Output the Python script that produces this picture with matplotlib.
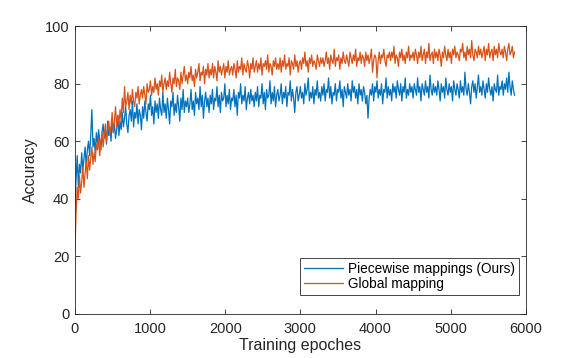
import numpy as np
import matplotlib
matplotlib.use('Agg')
import matplotlib.pyplot as plt

# accuracy, one value every 15 epochs (20 values per row = 300 epochs)
step = 15
piecewise = [38, 47, 55, 44, 52, 49, 56, 50, 54, 58, 51, 57, 60, 55, 62, 71, 58, 61, 56, 63,
             59, 64, 60, 57, 63, 66, 61, 64, 59, 67, 62, 65, 60, 68, 63, 66, 61, 64, 69, 62,
             67, 64, 70, 65, 68, 72, 66, 63, 69, 71, 67, 74, 65, 70, 68, 73, 66, 71, 69, 64,
             72, 68, 74, 70, 67, 73, 71, 76, 69, 72, 66, 74, 70, 73, 68, 75, 71, 69, 77, 70,
             73, 68, 75, 71, 66, 74, 72, 77, 69, 73, 70, 76, 72, 67, 75, 71, 78, 70, 74, 72,
             75, 70, 73, 78, 71, 74, 69, 77, 73, 75, 71, 79, 72, 76, 68, 74, 77, 72, 75, 70,
             76, 73, 78, 71, 75, 74, 79, 72, 76, 70, 77, 74, 75, 80, 72, 76, 73, 78, 71, 75,
             74, 78, 72, 76, 69, 77, 75, 80, 73, 76, 74, 79, 71, 75, 77, 73, 78, 74, 76, 72,
             77, 74, 79, 72, 76, 75, 80, 73, 77, 71, 78, 75, 76, 81, 73, 77, 74, 79, 72, 76,
             78, 74, 76, 80, 73, 77, 75, 79, 72, 77, 76, 81, 74, 78, 75, 70, 77, 79, 74, 76,
             79, 75, 77, 73, 80, 76, 78, 82, 74, 77, 75, 79, 73, 78, 76, 81, 75, 77, 74, 79,
             76, 80, 74, 78, 77, 82, 75, 79, 73, 77, 76, 80, 74, 78, 77, 81, 75, 78, 72, 79,
             77, 75, 80, 76, 78, 74, 81, 77, 79, 75, 78, 73, 80, 76, 78, 74, 79, 77, 73, 76,
             68, 75, 78, 76, 80, 74, 79, 77, 81, 75, 78, 76, 80, 73, 78, 77, 82, 75, 79, 76,
             78, 74, 80, 77, 79, 75, 81, 78, 76, 80, 74, 79, 77, 82, 75, 78, 76, 80, 77, 79,
             75, 80, 78, 76, 82, 77, 79, 74, 80, 78, 76, 81, 77, 79, 75, 83, 78, 76, 80, 77,
             79, 76, 81, 78, 74, 80, 77, 79, 75, 82, 78, 76, 80, 77, 79, 74, 81, 78, 76, 80,
             78, 75, 81, 77, 79, 76, 84, 78, 76, 80, 77, 73, 79, 81, 77, 80, 75, 79, 83, 77,
             79, 76, 81, 78, 75, 80, 77, 82, 78, 76, 79, 74, 80, 78, 77, 83, 76, 79, 78, 81,
             76, 80, 78, 82, 77, 84, 79, 76, 81, 78, 76]
global_map = [22, 35, 44, 40, 48, 42, 46, 51, 44, 49, 53, 47, 55, 50, 54, 58, 52, 56, 53, 59,
              57, 61, 55, 60, 63, 58, 62, 66, 60, 64, 67, 62, 65, 70, 63, 67, 72, 65, 69, 66,
              71, 67, 75, 70, 79, 72, 74, 77, 71, 76, 73, 78, 74, 72, 77, 75, 79, 73, 76, 78,
              75, 79, 76, 73, 80, 77, 78, 81, 76, 79, 77, 82, 78, 80, 76, 81, 79, 83, 77, 80,
              82, 78, 81, 79, 84, 80, 77, 82, 80, 85, 79, 82, 81, 78, 84, 80, 83, 86, 81, 83,
              80, 84, 82, 86, 81, 83, 79, 85, 82, 84, 87, 81, 84, 83, 86, 80, 85, 83, 87, 82,
              85, 83, 87, 82, 86, 84, 81, 88, 84, 86, 83, 85, 87, 82, 86, 84, 88, 83, 85, 86,
              83, 87, 85, 82, 88, 84, 86, 85, 89, 83, 87, 85, 84, 88, 86, 82, 87, 85, 89, 84,
              86, 88, 84, 87, 85, 89, 83, 87, 86, 88, 85, 90, 84, 87, 86, 83, 88, 86, 89, 85,
              87, 85, 89, 84, 88, 86, 90, 85, 87, 86, 89, 83, 88, 87, 85, 90, 86, 88, 84, 87,
              88, 85, 89, 87, 91, 86, 88, 84, 89, 87, 90, 86, 88, 87, 85, 90, 88, 86, 89, 87,
              89, 86, 88, 91, 87, 89, 85, 90, 88, 87, 92, 86, 89, 88, 90, 85, 89, 87, 91, 88,
              87, 90, 88, 86, 91, 89, 87, 90, 88, 92, 86, 89, 88, 91, 87, 90, 89, 86, 91, 88,
              90, 87, 89, 92, 84, 88, 90, 89, 82, 88, 91, 87, 90, 89, 92, 88, 86, 90, 89, 91,
              88, 91, 89, 93, 87, 90, 89, 86, 91, 89, 92, 88, 90, 87, 91, 89, 93, 88, 90, 89,
              91, 88, 92, 90, 87, 91, 89, 93, 88, 90, 92, 87, 91, 89, 94, 88, 90, 91, 87, 92,
              89, 91, 88, 92, 90, 86, 91, 89, 93, 90, 88, 92, 89, 91, 87, 92, 90, 93, 89, 91,
              90, 88, 92, 91, 94, 89, 91, 88, 93, 90, 92, 89, 95, 90, 88, 92, 91, 89, 93, 90,
              92, 89, 91, 93, 88, 92, 90, 94, 89, 91, 92, 88, 93, 90, 92, 89, 94, 91, 90, 92,
              89, 93, 91, 88, 92, 94, 90, 91, 93, 89, 91]

plt.rcParams['font.family'] = ['Liberation Sans', 'DejaVu Sans']

fig = plt.figure(figsize=(5.81, 3.58), dpi=100)
ax = fig.add_axes([0.129, 0.123, 0.776, 0.804])

x1 = np.arange(len(piecewise)) * step
x2 = np.arange(len(global_map)) * step
ax.plot(x1, piecewise, color='#0072BD', lw=0.9, label='Piecewise mappings (Ours)')
ax.plot(x2, global_map, color='#D95319', lw=0.9, label='Global mapping')

ax.set_xlim(0, 6000)
ax.set_ylim(0, 100)
ax.set_xticks(np.arange(0, 6001, 1000))
ax.set_yticks(np.arange(0, 101, 20))
ax.set_xlabel('Training epoches', fontsize=11.5, color='#262626', labelpad=1.5)
ax.set_ylabel('Accuracy', fontsize=11.5, color='#262626', labelpad=5)

ax.tick_params(direction='in', top=True, right=True, length=3.5, width=0.6,
               colors='#262626', labelsize=10.5, pad=4)
ax.tick_params(axis='x', pad=6)
for s in ax.spines.values():
    s.set_color('#262626')
    s.set_linewidth(0.6)

leg = ax.legend(loc='lower right', bbox_to_anchor=(0.985, 0.066), borderaxespad=0,
                fancybox=False, framealpha=1, edgecolor='#262626', fontsize=9.8,
                handlelength=2.9, handletextpad=0.35, borderpad=0.3, labelspacing=0.05)
leg.get_frame().set_linewidth(0.6)

fig.savefig('out.png', dpi=100)
